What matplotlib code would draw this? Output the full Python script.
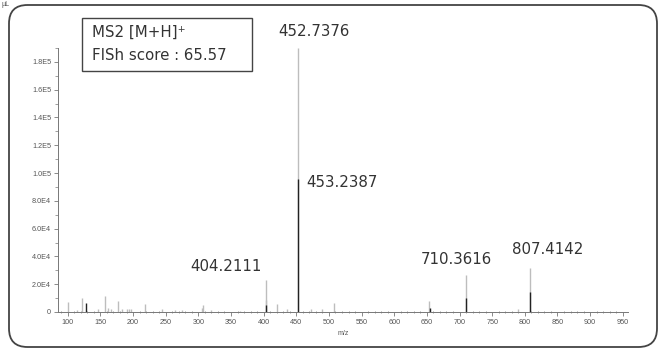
import matplotlib
matplotlib.use("Agg")
import matplotlib.pyplot as plt
from matplotlib.patches import FancyBboxPatch, Rectangle
from matplotlib.ticker import MultipleLocator

# ---- data ----
# profile (light gray) peaks
mz_gray = [100, 114, 121, 146, 157, 161, 166, 177, 183, 190, 194, 197, 219, 245,
           264, 275, 305, 307, 320, 363, 403, 404.2, 420, 435, 452.7, 472, 489, 507,
           653.5, 710.3, 790, 807.3]
int_gray = [7200, 1500, 10000, 2000, 11500, 3000, 2500, 8000, 2000, 2000, 2200, 1800,
            5800, 2000, 1500, 1500, 3000, 5000, 1500, 1000, 8600, 23000, 5800, 2000,
            190000, 2000, 2000, 6500, 8000, 26500, 2500, 31500]
# centroid (dark) peaks
mz_dark = [128, 404.2, 453.2, 654.0, 710.4, 807.4]
int_dark = [6500, 5000, 96000, 3000, 10000, 14500]

labels = ["452.7376", "453.2387", "404.2111", "710.3616", "807.4142"]
label_mz = [452.7, 453.2, 404.2, 710.4, 807.4]
label_int = [190000, 96000, 23000, 26500, 31500]

x_ticks = list(range(100, 951, 50))
y_ticks = [0, 20000, 40000, 60000, 80000, 100000, 120000, 140000, 160000, 180000]
y_tick_labels = ["0", "2.0E4", "4.0E4", "6.0E4", "8.0E4", "1.0E5", "1.2E5",
                 "1.4E5", "1.6E5", "1.8E5"]

W, H = 661, 349
fig = plt.figure(figsize=(W / 100, H / 100), dpi=100)

# axes placement
left, right, bottom, top = 58, 628, 312, 48
ax = fig.add_axes([left / W, 1 - bottom / H, (right - left) / W, (bottom - top) / H])
ax.set_xlim(85, 958)
ax.set_ylim(0, 190000)

ax.vlines(mz_gray, 0, int_gray, colors="#bdbdbd", linewidth=1.0)
ax.vlines(mz_dark, 0, int_dark, colors="#222222", linewidth=1.0)

for sp in ["top", "right"]:
    ax.spines[sp].set_visible(False)
for sp in ["left", "bottom"]:
    ax.spines[sp].set_color("#777777")
    ax.spines[sp].set_linewidth(0.7)

ax.set_xticks(x_ticks)
ax.set_xticklabels([str(v) for v in x_ticks])
ax.xaxis.set_minor_locator(MultipleLocator(10))
ax.set_yticks(y_ticks)
ax.set_yticklabels(y_tick_labels)
ax.yaxis.set_minor_locator(MultipleLocator(10000))
for lab in ax.get_xticklabels() + ax.get_yticklabels():
    lab.set_fontfamily("Liberation Sans")
    lab.set_fontsize(5.2)
    lab.set_color("#555555")
ax.tick_params(axis="both", which="major", length=3, width=0.6, color="#777777", pad=2)
ax.tick_params(axis="x", which="minor", length=2, width=0.5, color="#777777", direction="inout")
ax.tick_params(axis="y", which="minor", length=2, width=0.5, color="#777777")
ax.set_xlabel("m/z", fontsize=5, family="Liberation Sans", color="#555555", labelpad=3)

# peak labels (offsets in pixels, +y is up)
offsets = [(16, 16, "center"), (8, -4, "left"), (-40, 14, "center"),
           (-10, 16, "center"), (18, 19, "center")]
for txt, mz, it, (dx, dy, ha) in zip(labels, label_mz, label_int, offsets):
    ax.annotate(txt, xy=(mz, it), xytext=(dx, dy), textcoords="offset pixels",
                ha=ha, va="center", fontsize=10.8, color="#333333",
                family="DejaVu Sans")

# info box
fig.add_artist(Rectangle((82 / W, 1 - 71 / H), (252 - 82) / W, (71 - 18) / H,
                         transform=fig.transFigure, fill=False,
                         edgecolor="#444444", linewidth=1.0))
fig.text(92 / W, 1 - 32.5 / H, "MS2 [M+H]\u207a", fontsize=10.8, color="#333333",
         va="center", ha="left", family="DejaVu Sans")
fig.text(92 / W, 1 - 56 / H, "FISh score : 65.57", fontsize=10.8, color="#333333",
         va="center", ha="left", family="DejaVu Sans")

# rounded outer frame
fig.add_artist(FancyBboxPatch((9 / W, 1 - 347 / H), (657 - 9) / W, (347 - 5) / H,
                              boxstyle="round,pad=0,rounding_size=0.028",
                              transform=fig.transFigure, fill=False,
                              edgecolor="#444444", linewidth=1.3,
                              mutation_aspect=W / H))
fig.text(2 / W, 1 - 5 / H, "\u00b5L", fontsize=5, color="#555555", va="center",
         ha="left", family="Liberation Sans")

fig.savefig("out.png", dpi=100)
